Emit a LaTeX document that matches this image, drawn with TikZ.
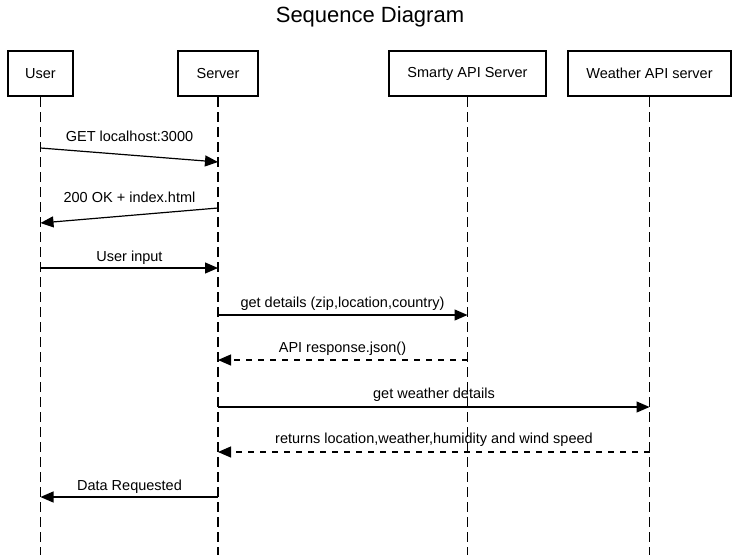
\documentclass[tikz,border=0pt]{standalone}
\usepackage{fontspec}
\setmainfont{Liberation Sans}
\usetikzlibrary{arrows.meta}

\begin{document}
\begin{tikzpicture}[x=1pt, y=-1pt,
    every node/.style={font=\fontsize{14.5}{17}\selectfont},
    actor/.style={draw, line width=2.4pt, minimum height=45pt, inner sep=0pt},
    lifeline/.style={line width=1.2pt, dash pattern=on 10pt off 5pt},
    msg/.style={line width=1.2pt, -{Triangle[length=13pt, width=11pt]}},
    reply/.style={msg, dash pattern=on 6pt off 6pt},
    msglabel/.style={inner sep=0pt}
]
\useasboundingbox (0,0) rectangle (739,555);

% Title
\node[font=\fontsize{22}{26}\selectfont] (title) at (370,17) {Sequence Diagram};

% Participants
\node[actor, minimum width=65pt] (user) at (40.5,73.5) {User};
\node[actor, minimum width=80pt] (server) at (218,73.5) {Server};
\node[actor, minimum width=157pt] (smarty) at (467.5,73.5) {Smarty API Server};
\node[actor, minimum width=163pt] (weather) at (649.5,73.5) {Weather API server};

% Lifelines
\coordinate (userend) at (40.5,555);
\coordinate (serverend) at (218,555);
\coordinate (smartyend) at (467.5,555);
\coordinate (weatherend) at (649.5,555);
\draw[lifeline] (user.south) -- (userend);
\draw[lifeline] (server.south) -- (serverend);
\draw[lifeline] (smarty.south) -- (smartyend);
\draw[lifeline] (weather.south) -- (weatherend);

% Step 1: page request
\coordinate (u1) at (40.5,148);
\coordinate (s1) at (218,162);
\draw[msg] (u1) -- (s1);
\node[msglabel] (l1) at (129.5,136) {GET localhost:3000};

% Step 2: page returned
\coordinate (s2) at (218,208);
\coordinate (u2) at (40.5,223);
\draw[msg] (s2) -- (u2);
\node[msglabel] (l2) at (129.5,197) {200 OK + index.html};

% Step 3: user input
\coordinate (u3) at (40.5,268);
\coordinate (s3) at (218,268);
\draw[msg] (u3) -- (s3);
\node[msglabel] (l3) at (129.5,258) {User input};

% Step 4: Smarty lookup
\coordinate (s4) at (218,315);
\coordinate (m4) at (467.5,315);
\draw[msg] (s4) -- (m4);
\node[msglabel] (l4) at (342.5,304) {get details (zip,location,country)};

% Step 5: Smarty reply
\coordinate (m5) at (467.5,360);
\coordinate (s5) at (218,360);
\draw[reply] (m5) -- (s5);
\node[msglabel] (l5) at (342.5,349) {API response.json()};

% Step 6: weather lookup
\coordinate (s6) at (218,407);
\coordinate (w6) at (649.5,407);
\draw[msg] (s6) -- (w6);
\node[msglabel] (l6) at (434,395) {get weather details};

% Step 7: weather reply
\coordinate (w7) at (649.5,452);
\coordinate (s7) at (218,452);
\draw[reply] (w7) -- (s7);
\node[msglabel] (l7) at (434,440) {returns location,weather,humidity and wind speed};

% Step 8: result to user
\coordinate (s8) at (218,497);
\coordinate (u8) at (40.5,497);
\draw[msg] (s8) -- (u8);
\node[msglabel] (l8) at (129.5,487) {Data Requested};

\end{tikzpicture}
\end{document}
